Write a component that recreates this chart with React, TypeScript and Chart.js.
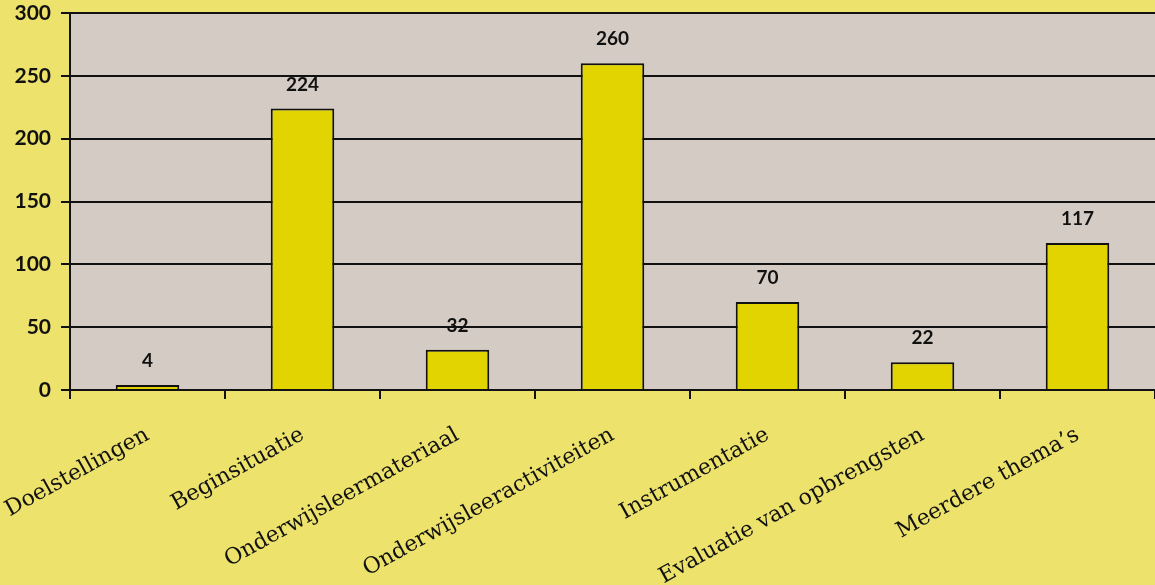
import React, { useEffect, useRef } from "react";
import { Chart, registerables } from "chart.js";

Chart.register(...registerables);

const categories = [
  "Doelstellingen",
  "Beginsituatie",
  "Onderwijsleermateriaal",
  "Onderwijsleeractiviteiten",
  "Instrumentatie",
  "Evaluatie van opbrengsten",
  "Meerdere thema\u2019s",
];
const values = [4, 224, 32, 260, 70, 22, 117];
const yTicks = [0, 50, 100, 150, 200, 250, 300];

const OUTER_BG = "#ECE26C";
const PLOT_BG = "#D4CCC4";
const BAR_COLOR = "#E2D400";

const plotBgPlugin = {
  id: "plotBg",
  beforeDraw(chart: any) {
    const { ctx, chartArea } = chart;
    ctx.save();
    ctx.fillStyle = OUTER_BG;
    ctx.fillRect(0, 0, chart.width, chart.height);
    ctx.fillStyle = PLOT_BG;
    ctx.fillRect(chartArea.left, chartArea.top, chartArea.right - chartArea.left, chartArea.bottom - chartArea.top);
    ctx.restore();
  },
};

const valueLabelPlugin = {
  id: "valueLabels",
  afterDatasetsDraw(chart: any) {
    const { ctx } = chart;
    const meta = chart.getDatasetMeta(0);
    ctx.save();
    ctx.fillStyle = "#111";
    ctx.font = "bold 19px Lato";
    ctx.textAlign = "center";
    ctx.textBaseline = "middle";
    meta.data.forEach((el: any, i: number) => {
      ctx.fillText(String(values[i]), el.x, el.y - 24);
    });
    ctx.restore();
  },
};

export default function App() {
  const ref = useRef<HTMLCanvasElement | null>(null);
  useEffect(() => {
    document.body.style.margin = "0";
    document.body.style.background = OUTER_BG;
    const chart = new Chart(ref.current as HTMLCanvasElement, {
      type: "bar",
      data: {
        labels: categories,
        datasets: [
          {
            data: values,
            backgroundColor: BAR_COLOR,
            borderColor: "#111",
            borderWidth: 2,
            categoryPercentage: 1,
            barPercentage: 0.41,
          },
        ],
      },
      options: {
        responsive: false,
        animation: false,
        layout: { padding: { top: 13, left: 0, right: 0, bottom: 0 } },
        plugins: { legend: { display: false }, tooltip: { enabled: false } },
        scales: {
          x: {
            offset: true,
            border: { color: "#111", width: 2 },
            grid: {
              offset: true,
              drawOnChartArea: false,
              drawTicks: true,
              tickLength: 9,
              color: "#111",
              lineWidth: 2,
            },
            ticks: {
              color: "#111",
              font: { family: "DejaVu Serif", size: 22 },
              minRotation: 29,
              maxRotation: 29,
              autoSkip: false,
              padding: 23,
            },
            afterFit(scale: any) {
              scale.height = 195;
              scale.paddingLeft = 0;
              scale.paddingRight = 0;
            },
          },
          y: {
            min: 0,
            max: 300,
            afterBuildTicks(scale: any) {
              scale.ticks = yTicks.map((v) => ({ value: v }));
            },
            border: { color: "#111", width: 2 },
            grid: {
              color: "#111",
              lineWidth: 2,
              tickLength: 9,
            },
            ticks: {
              color: "#111",
              font: { family: "Lato", size: 21, weight: "bold" },
              padding: 10,
            },
            afterFit(scale: any) {
              scale.width = 70;
              scale.paddingTop = 0;
              scale.paddingBottom = 0;
            },
          },
        },
      },
      plugins: [plotBgPlugin, valueLabelPlugin],
    });
    return () => chart.destroy();
  }, []);
  return (
    <div style={{ width: 1155, height: 585 }}>
      <canvas ref={ref} width={1155} height={585} />
    </div>
  );
}
